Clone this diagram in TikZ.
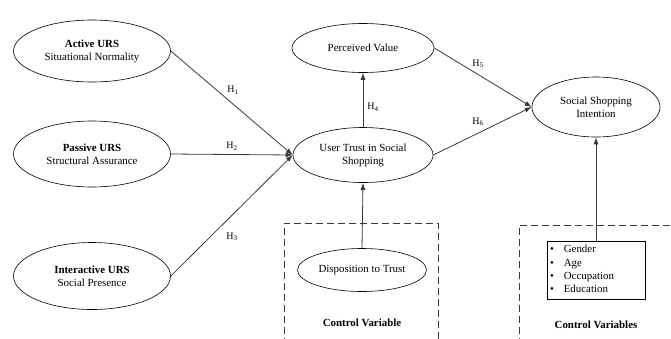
\documentclass[tikz,border=0pt]{standalone}
\usepackage{fontspec}
\setmainfont{Liberation Serif}
\usetikzlibrary{shapes.geometric,arrows.meta}
\definecolor{ln}{HTML}{3A3A3A}
\tikzset{
  construct/.style={draw=black, ellipse, inner sep=0pt, align=center, font=\fontsize{10.9}{13}\selectfont, line width=0.6pt},
  link/.style={draw=ln, line width=0.8pt, -{Latex[length=7pt,width=5pt]}},
  hlab/.style={font=\fontsize{10}{11}\selectfont, inner sep=1pt},
  ctrl/.style={draw=ln, dashed, dash pattern=on 7pt off 4pt, line width=0.7pt},
  ctrltitle/.style={font=\fontsize{10.9}{13}\selectfont\bfseries}
}
\begin{document}
\begin{tikzpicture}[x=1pt,y=-1pt]
\useasboundingbox (0,0) rectangle (671,338);
\clip (0,0) rectangle (671,338);
% constructs
\node[construct, minimum width=157pt, minimum height=62pt] (act) at (92,51) {\textbf{Active URS}\\Situational Normality};
\node[construct, minimum width=157pt, minimum height=66pt] (pas) at (92,154) {\textbf{Passive URS}\\Structural Assurance};
\node[construct, minimum width=157pt, minimum height=67pt] (int) at (92,276) {\textbf{Interactive URS}\\Social Presence};
\node[construct, minimum width=142pt, minimum height=49pt] (pv) at (363,48) {Perceived Value};
\node[construct, minimum width=140pt, minimum height=55pt] (ut) at (363,155) {User Trust in Social\\Shopping};
\node[construct, minimum width=128pt, minimum height=60pt] (ssi) at (596,107) {Social Shopping\\Intention};
\node[construct, minimum width=129pt, minimum height=43pt] (dt) at (362,270) {Disposition to Trust};
% control boxes
\coordinate (b1a) at (284,345);
\coordinate (b1b) at (284,223);
\coordinate (b1c) at (438,223);
\coordinate (b1d) at (438,345);
\draw[ctrl] (b1a) -- (b1b) -- (b1c) -- (b1d);
\coordinate (b2a) at (519,345);
\coordinate (b2b) at (519,225);
\coordinate (b2c) at (680,225);
\draw[ctrl] (b2a) -- (b2b) -- (b2c);
\node[ctrltitle] (cv1) at (362,323) {Control Variable};
\node[ctrltitle] (cv2) at (596,325) {Control Variables};
\node[draw=black, line width=0.6pt, text width=92pt, inner xsep=3pt, inner ysep=1pt, minimum height=58pt, align=left, font=\fontsize{10.9}{13}\selectfont] (lst) at (596,270)
  {\renewcommand\arraystretch{1.02}\begin{tabular}{@{}l@{\hspace{10pt}}l@{}}\textbullet & Gender\\ \textbullet & Age\\ \textbullet & Occupation\\ \textbullet & Education\end{tabular}};
% connectors
\draw[link] (act.east) -- (ut.west);
\node[hlab] (h1) at (233,90) {H\textsubscript{1}};
\draw[link] (pas.east) -- (ut.west);
\node[hlab] (h2) at (232,146) {H\textsubscript{2}};
\draw[link] (int.east) -- (ut.west);
\node[hlab] (h3) at (232,237) {H\textsubscript{3}};
\draw[link] (ut.north) -- (pv.south);
\node[hlab] (h4) at (373,107) {H\textsubscript{4}};
\draw[link] (pv.east) -- (ssi.west);
\node[hlab] (h5) at (478,64) {H\textsubscript{5}};
\draw[link] (ut.east) -- (ssi.west);
\node[hlab] (h6) at (478,122) {H\textsubscript{6}};
\draw[link] (dt.north) -- (ut.south);
\draw[link] (lst.north) -- (ssi.south);
\end{tikzpicture}
\end{document}
